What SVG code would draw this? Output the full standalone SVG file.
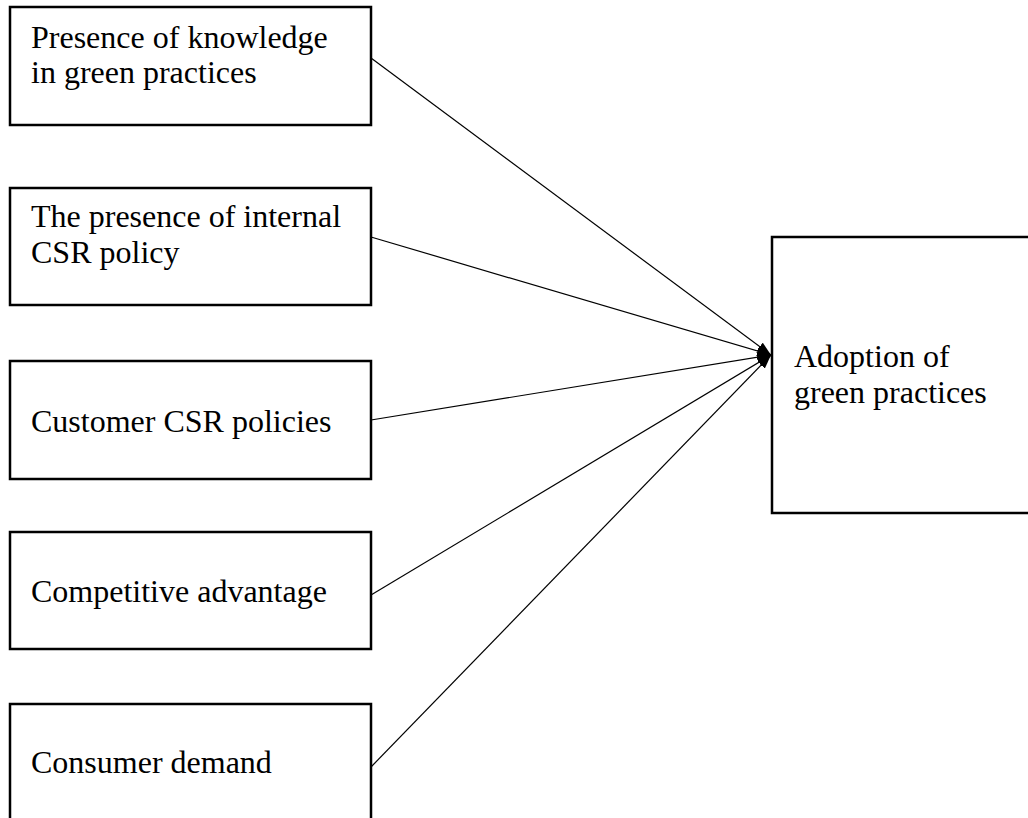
<svg xmlns="http://www.w3.org/2000/svg" width="1028" height="818" viewBox="0 0 1028 818">
<style>
.box{fill:#fff;stroke:#000;stroke-width:2.5}
.t{font-family:"Liberation Serif","Times New Roman",serif;font-size:32px;fill:#000}
.c{stroke:#000;stroke-width:1.2;fill:none;marker-end:url(#ah)}
</style>
<defs>
<marker id="ah" viewBox="0 0 14 10" refX="14" refY="5" markerWidth="14" markerHeight="10" markerUnits="userSpaceOnUse" orient="auto">
<path d="M0,0 L14,5 L0,10 z" fill="#000"/>
</marker>
</defs>
<rect width="1028" height="818" fill="#fff"/>
<g id="n1"><rect class="box" x="10" y="7" width="361" height="118"/><text class="t" x="31" y="48">Presence of knowledge</text><text class="t" x="31" y="83">in green practices</text></g>
<g id="n2"><rect class="box" x="10" y="188" width="361" height="117"/><text class="t" x="31" y="227">The presence of internal</text><text class="t" x="31" y="263">CSR policy</text></g>
<g id="n3"><rect class="box" x="10" y="361" width="361" height="118"/><text class="t" x="31" y="432">Customer CSR policies</text></g>
<g id="n4"><rect class="box" x="10" y="532" width="361" height="117"/><text class="t" x="31" y="602">Competitive advantage</text></g>
<g id="n5"><rect class="box" x="10" y="704" width="361" height="130"/><text class="t" x="31" y="773">Consumer demand</text></g>
<g id="n6"><rect class="box" x="772" y="237" width="280" height="276"/><text class="t" x="794" y="367">Adoption of</text><text class="t" x="794" y="403">green practices</text></g>
<g id="connectors">
<line class="c" x1="371" y1="58" x2="771" y2="355"/>
<line class="c" x1="371" y1="237" x2="771" y2="355"/>
<line class="c" x1="371" y1="420" x2="771" y2="355"/>
<line class="c" x1="371" y1="595" x2="771" y2="355"/>
<line class="c" x1="371" y1="767" x2="771" y2="355"/>
</g>
</svg>
